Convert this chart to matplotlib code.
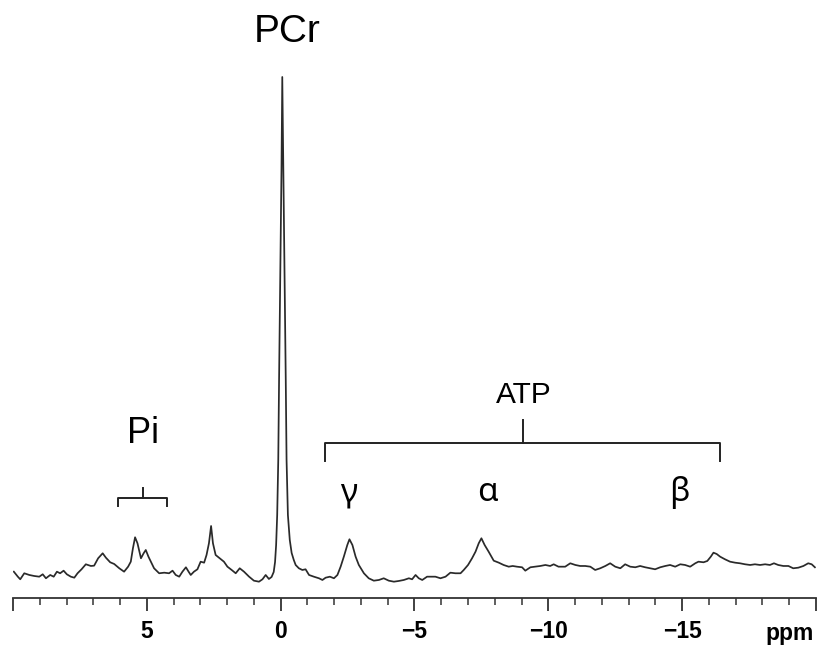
import matplotlib
matplotlib.use('Agg')
import matplotlib.pyplot as plt
from matplotlib.ticker import FixedLocator, MultipleLocator

# 31P spectrum: chemical shift (ppm) and intensity (a.u.)
ppm = [9.97, 9.82, 9.73, 9.58, 9.39, 9.21, 9.02, 8.89, 8.77, 8.61, 8.48, 8.36, 8.24, 8.11,
       7.99, 7.84, 7.71, 7.59, 7.44, 7.28, 7.09, 6.97, 6.82, 6.65, 6.53, 6.37, 6.22, 6.03,
       5.85, 5.70, 5.60, 5.52, 5.44, 5.35, 5.22, 5.12, 5.04, 4.94, 4.85, 4.73, 4.54, 4.35,
       4.17, 4.04, 3.92, 3.79, 3.67, 3.54, 3.44, 3.36, 3.24, 3.11, 2.99, 2.86, 2.77, 2.68,
       2.60, 2.53, 2.43, 2.28, 2.12, 1.99, 1.83, 1.68, 1.53, 1.37, 1.18, 1.00, 0.81, 0.68,
       0.56, 0.44, 0.34, 0.26, 0.21, 0.17, 0.13, 0.09, 0.06, 0.02, -0.03, -0.06, -0.10,
       -0.15, -0.19, -0.22, -0.27, -0.34, -0.41, -0.49, -0.56, -0.68, -0.81, -0.93, -1.06,
       -1.24, -1.43, -1.56, -1.68, -1.84, -1.99, -2.12, -2.24, -2.36, -2.49, -2.57, -2.68,
       -2.80, -2.92, -3.11, -3.29, -3.48, -3.67, -3.85, -4.04, -4.23, -4.41, -4.60, -4.79,
       -4.91, -5.04, -5.16, -5.29, -5.47, -5.60, -5.78, -5.97, -6.16, -6.34, -6.53, -6.72,
       -6.84, -7.00, -7.15, -7.28, -7.40, -7.50, -7.62, -7.77, -7.96, -8.15, -8.33, -8.52,
       -8.67, -8.83, -9.02, -9.14, -9.33, -9.51, -9.70, -9.89, -10.07, -10.20, -10.38,
       -10.63, -10.82, -11.01, -11.19, -11.38, -11.57, -11.75, -11.94, -12.13, -12.31,
       -12.50, -12.69, -12.87, -13.06, -13.25, -13.43, -13.62, -13.81, -13.99, -14.18,
       -14.37, -14.55, -14.74, -14.93, -15.11, -15.30, -15.49, -15.61, -15.80, -15.94,
       -16.07, -16.17, -16.29, -16.42, -16.60, -16.79, -16.98, -17.16, -17.35, -17.54,
       -17.72, -17.91, -18.10, -18.28, -18.43, -18.59, -18.78, -18.97, -19.15, -19.34,
       -19.53, -19.71, -19.84, -19.96]
signal = [13.3, 8.3, 5.7, 11.7, 10, 9, 8.3, 10.7, 6.7, 10, 8.3, 13.3, 11.7, 14.3,
          10.7, 8.3, 7.3, 11.7, 15.7, 20.7, 19, 19.3, 26.7, 31.7, 27.3, 22.7, 21, 16.7,
          13.3, 18.3, 23.3, 36.7, 47.7, 41.7, 26.7, 31.7, 35, 28.3, 23.3, 16.7, 11.7, 12.3,
          11.7, 14.3, 10, 8.3, 13.3, 17.7, 13.3, 10, 13.3, 15.7, 23.3, 22.3, 30, 41.7,
          59, 41.7, 30, 26.7, 23.3, 18.3, 15, 11.7, 16.7, 13.3, 8.3, 4.3, 3.3, 5.7,
          10, 6, 8, 13, 23, 40, 70, 125, 205, 295, 415, 508, 415,
          295, 205, 125, 70, 45, 32, 25, 20, 16.7, 15, 15.7, 10,
          8.3, 6.7, 5, 7.3, 8.3, 6.7, 10, 18.3, 28.3, 40, 45.7, 40,
          28.3, 20, 11.7, 6.7, 4.3, 5, 6.7, 4.3, 3.3, 4, 5, 6.7,
          5.7, 10, 6.7, 5, 8.3, 8.3, 8.3, 6.7, 8.3, 12.3, 11.7, 11.7,
          15, 20, 26.7, 33.3, 41.7, 46.7, 40, 33.3, 24.3, 22.3, 20, 18.3,
          19, 18.3, 17.7, 14.3, 17.7, 18.3, 19, 20, 19, 20.7, 18.3,
          18.3, 21.7, 20, 19, 19, 18.3, 15, 16.7, 19, 21.7,
          18.3, 16.7, 20.7, 18.3, 17.7, 19, 17.7, 16.7, 15.7, 17.7,
          19, 20, 18.3, 20.7, 20, 18.3, 21.7, 23.3, 22.7, 24,
          28.3, 32.3, 31, 28.3, 25.7, 23.3, 22.3, 21.7, 20.7, 20,
          20.7, 20, 20.7, 20, 21.7, 20, 19, 19, 16.7, 17.3,
          19, 21.7, 20.7, 17.7]

# peak labels
big_labels = ['PCr', 'Pi', 'ATP']
big_x = [-0.25, 5.15, -9.10]
big_y = [543, 142, 182]
big_size = [28, 26, 21.5]

greek_labels = ['γ', 'α', 'β']
greek_x = [-2.54, -7.74, -14.89]

# brackets: (left ppm, right ppm, centre ppm, level, end drop, centre rise)
brackets = [(6.06, 4.23, 5.14, 87, 8, 10),
            (-1.64, -16.42, -9.06, 142, 18, 23)]

major_ticks = [10, 5, 0, -5, -10, -15, -20]
major_labels = ['', '5', '0', '\u22125', '\u221210', '\u221215', '']

fig = plt.figure(figsize=(8.19, 6.45), dpi=100)
ax = fig.add_axes([0.0159, 0.0729, 0.9804, 0.9271])

ax.plot(ppm, signal, color='#2a2a2a', lw=1.25)

ax.set_xlim(10, -20)
ax.set_ylim(-13, 585)

for s in ['top', 'left', 'right']:
    ax.spines[s].set_visible(False)
ax.spines['bottom'].set_linewidth(1.3)
ax.spines['bottom'].set_color('#333333')
ax.set_yticks([])

ax.xaxis.set_major_locator(FixedLocator(major_ticks))
ax.set_xticklabels(major_labels, fontfamily='Liberation Sans', fontweight='bold', fontsize=16.5)
ax.xaxis.set_minor_locator(MultipleLocator(1))
ax.tick_params(axis='x', which='major', direction='out', length=9, width=1.3, pad=7, color='#333333')
ax.tick_params(axis='x', which='minor', direction='out', length=5, width=1.1, color='#333333')

fig.text(0.993, 0.008, 'ppm', ha='right', va='baseline', fontfamily='Liberation Sans',
         fontweight='bold', fontsize=16.5)

for lab, x, y, fs in zip(big_labels, big_x, big_y, big_size):
    ax.text(x, y, lab, ha='center', va='baseline', fontsize=fs, fontfamily='Liberation Sans')

for lab, x in zip(greek_labels, greek_x):
    ax.text(x, 83.5, lab, ha='center', va='baseline', fontsize=24,
            fontfamily=['Noto Sans', 'DejaVu Sans'])

for x0, x1, xc, lvl, drop, rise in brackets:
    ax.plot([x0, x0, x1, x1], [lvl - drop, lvl, lvl, lvl - drop], color='#222222', lw=1.4)
    ax.plot([xc, xc], [lvl, lvl + rise], color='#222222', lw=1.4)

fig.savefig('out.png', dpi=100)
